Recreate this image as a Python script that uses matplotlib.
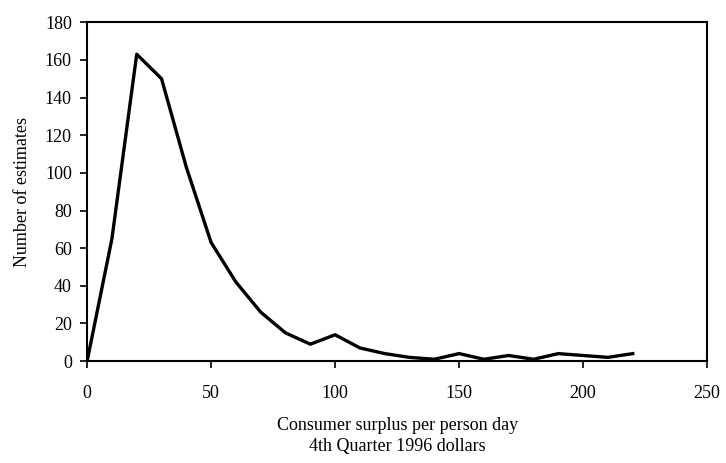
import numpy as np
import matplotlib
matplotlib.use('Agg')
import matplotlib.pyplot as plt

plt.rcParams['font.family'] = ['Liberation Serif', 'DejaVu Serif']

# consumer surplus bins (dollars) and number of estimates
surplus = [0, 10, 20, 30, 40, 50, 60, 70, 80, 90, 100, 110, 120, 130, 140,
           150, 160, 170, 180, 190, 200, 210, 220]
estimates = [0, 65, 163, 150, 103, 63, 42, 26, 15, 9, 14, 7, 4, 2, 1,
             4, 1, 3, 1, 4, 3, 2, 4]

xticks = [0, 50, 100, 150, 200, 250]
yticks = [0, 20, 40, 60, 80, 100, 120, 140, 160, 180]

fig = plt.figure(figsize=(7.26, 4.63), dpi=100)
ax = fig.add_axes([0.12, 0.22, 0.854, 0.732])

ax.plot(surplus, estimates, color='black', lw=2.4)

ax.set_xlim(0, 250)
ax.set_ylim(0, 180)
ax.set_xticks(xticks)
ax.set_yticks(yticks)
ax.tick_params(direction='out', length=5, width=1.2, labelsize=13)
ax.tick_params(axis='x', pad=12)
ax.tick_params(axis='y', pad=6)
for s in ax.spines.values():
    s.set_linewidth(1.5)

ax.set_xlabel('Consumer surplus per person day\n4th Quarter 1996 dollars',
              fontsize=13, labelpad=11, linespacing=1.3)
ax.set_ylabel('Number of estimates', fontsize=13, labelpad=10)

plt.savefig('out.png', dpi=100)
